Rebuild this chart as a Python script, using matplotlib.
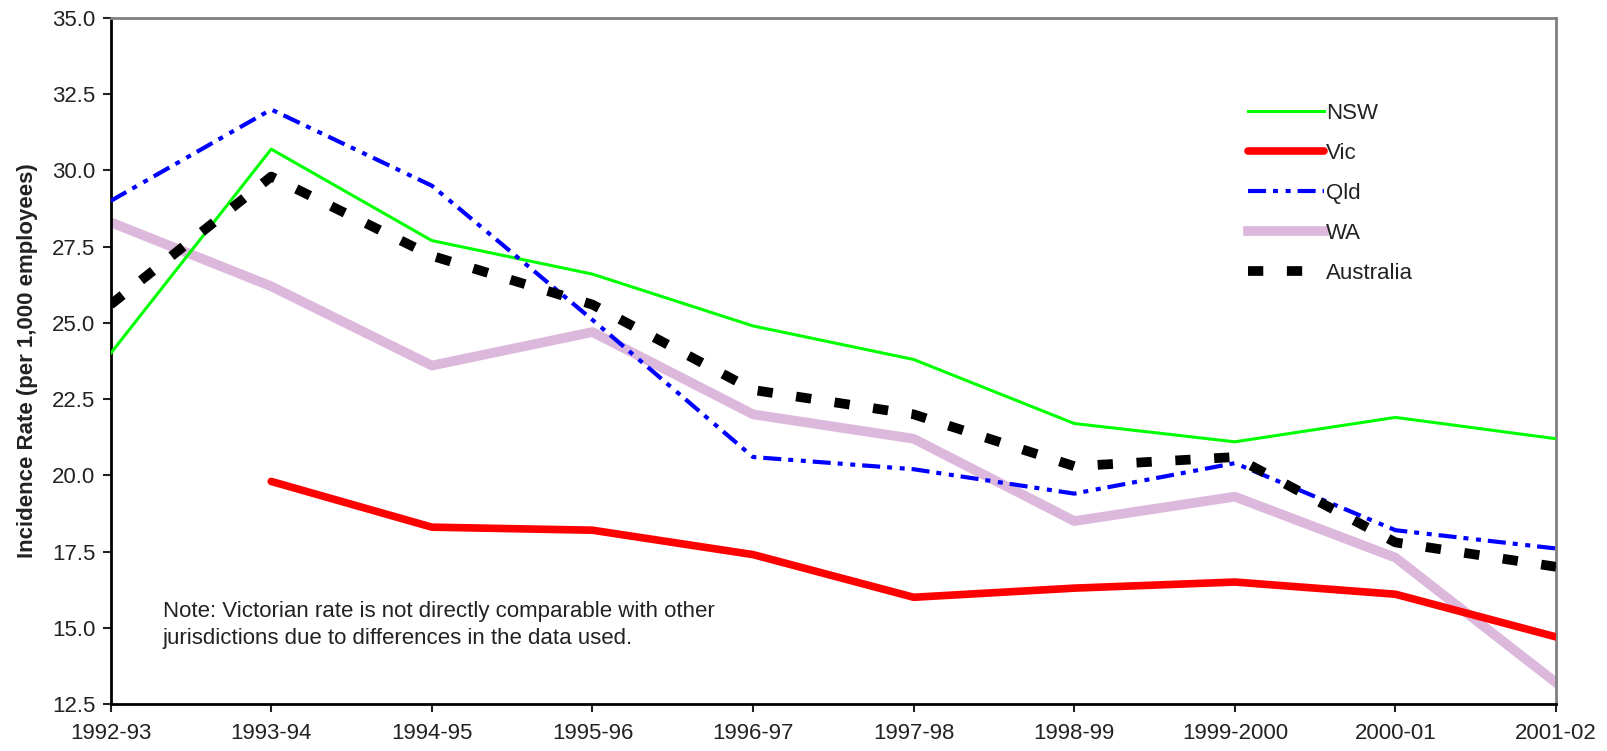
import matplotlib
matplotlib.use('Agg')
import matplotlib.pyplot as plt

plt.rcParams['font.family'] = ['Liberation Sans', 'DejaVu Sans']
plt.rcParams['lines.scale_dashes'] = False

years = ['1992-93', '1993-94', '1994-95', '1995-96', '1996-97',
         '1997-98', '1998-99', '1999-2000', '2000-01', '2001-02']
nsw = [24.0, 30.7, 27.7, 26.6, 24.9, 23.8, 21.7, 21.1, 21.9, 21.2]
vic = [None, 19.8, 18.3, 18.2, 17.4, 16.0, 16.3, 16.5, 16.1, 14.7]
qld = [29.0, 32.0, 29.5, 25.1, 20.6, 20.2, 19.4, 20.4, 18.2, 17.6]
wa = [28.3, 26.2, 23.6, 24.7, 22.0, 21.2, 18.5, 19.3, 17.3, 13.2]
aus = [25.6, 29.8, 27.2, 25.6, 22.8, 22.0, 20.3, 20.6, 17.8, 17.0]

note = ('Note: Victorian rate is not directly comparable with other\n'
        'jurisdictions due to differences in the data used.')

x = list(range(len(years)))
vx = [i for i, v in zip(x, vic) if v is not None]
vy = [v for v in vic if v is not None]

fig = plt.figure(figsize=(16.08, 7.51), dpi=100)
ax = fig.add_axes([0.0688, 0.0626, 0.8989, 0.9134])

ax.plot(x, nsw, color='#00ff00', lw=2.2, label='NSW', zorder=3)
ax.plot(vx, vy, color='#ff0000', lw=5.5, label='Vic', zorder=3,
        solid_capstyle='round')
ax.plot(x, qld, color='#0000ff', lw=3.0, label='Qld', zorder=4,
        dashes=(13, 5, 3.6, 5.5, 3.6, 5))
ax.plot(x, wa, color='#dcb8dc', lw=7.0, label='WA', zorder=2)
ax.plot(x, aus, color='black', lw=7.0, label='Australia', zorder=5,
        dashes=(11, 17))

ax.set_xlim(0, len(years) - 1)
ax.set_ylim(12.5, 35.0)
ax.set_yticks([12.5, 15.0, 17.5, 20.0, 22.5, 25.0, 27.5, 30.0, 32.5, 35.0])
ax.set_yticklabels(['%.1f' % v for v in ax.get_yticks()])
ax.set_xticks(x)
ax.set_xticklabels(years)
ax.tick_params(labelsize=16, length=6, width=1.5, colors='#222222')
ax.tick_params(axis='y', pad=5)
ax.tick_params(axis='x', pad=8)

for s in ['left', 'bottom']:
    ax.spines[s].set_color('black')
    ax.spines[s].set_linewidth(2.0)
for s in ['top', 'right']:
    ax.spines[s].set_color('#808080')
    ax.spines[s].set_linewidth(2.0)

ax.set_ylabel('Incidence Rate (per 1,000 employees)', fontsize=16,
              fontweight='bold', color='#222222')
ax.yaxis.set_label_coords(-0.0503, 0.5)

ax.text(0.036, 0.150, note, transform=ax.transAxes, fontsize=16,
        color='#222222', va='top', linespacing=1.4)

leg = ax.legend(loc='upper left', bbox_to_anchor=(0.781, 0.889),
                frameon=False, fontsize=16, handlelength=3.38,
                handletextpad=0.12, labelspacing=0.85,
                borderaxespad=0)
for t in leg.get_texts():
    t.set_color('#222222')

fig.savefig('out.png', dpi=100)
